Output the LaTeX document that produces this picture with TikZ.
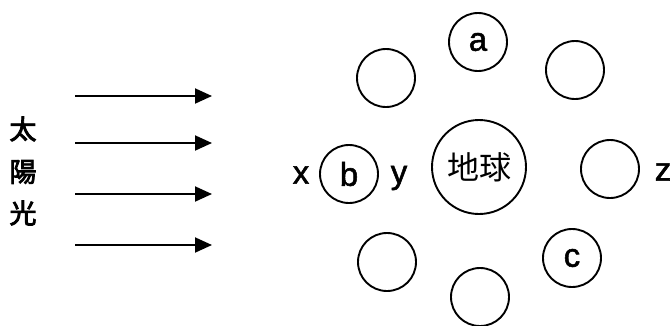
\documentclass[tikz,border=0pt]{standalone}
\usepackage{fontspec}
\setmainfont{Liberation Sans}
\newfontfamily\latin{Liberation Sans}[FakeBold=1.6]
\newfontfamily\cjk{Noto Sans CJK JP}
\newfontfamily\cjkthick{Noto Sans CJK JP}[FakeBold=3]
\usetikzlibrary{arrows.meta}
\begin{document}
\begin{tikzpicture}[x=1pt,y=-1pt,
  body/.style={draw,circle,line width=1.9pt,minimum size=58pt,inner sep=0pt,font=\latin\fontsize{33}{33}\selectfont},
  earth/.style={body,minimum size=94pt,font=\cjk\fontsize{32}{32}\selectfont},
  lbl/.style={font=\latin\fontsize{33}{33}\selectfont,inner sep=0pt},
  ray/.style={line width=1.9pt,-{Triangle[length=17pt,width=15pt]}},
  kanji/.style={font=\cjkthick\fontsize{27}{27}\selectfont,inner sep=0pt}]
\useasboundingbox (0,0) rectangle (671,325);
% sunlight arrows
\foreach \i/\yy in {1/96,2/143,3/194,4/245}{
  \coordinate (s\i) at (75,\yy);
  \coordinate (e\i) at (212,\yy);
  \draw[ray] (s\i) -- (e\i);
}
% vertical label
\node[kanji] (k1) at (23,129) {太};
\node[kanji] (k2) at (23,172) {陽};
\node[kanji] (k3) at (23,213) {光};
% earth and moon positions
\node[earth] (earth) at (479,167) {地球};
\node[body] (a) at (478,42) {a};
\node[body] (ul) at (386,78) {};
\node[body] (ur) at (575,70) {};
\node[body] (b) at (349,174) {b};
\node[body] (r) at (610,169) {};
\node[body] (ll) at (387,262) {};
\node[body] (c) at (572,258) {c};
\node[body] (bt) at (480,297) {};
\node[lbl] (x) at (301,175) {x};
\node[lbl] (y) at (399,178) {y};
\node[lbl] (z) at (663,172) {z};
\end{tikzpicture}
\end{document}
